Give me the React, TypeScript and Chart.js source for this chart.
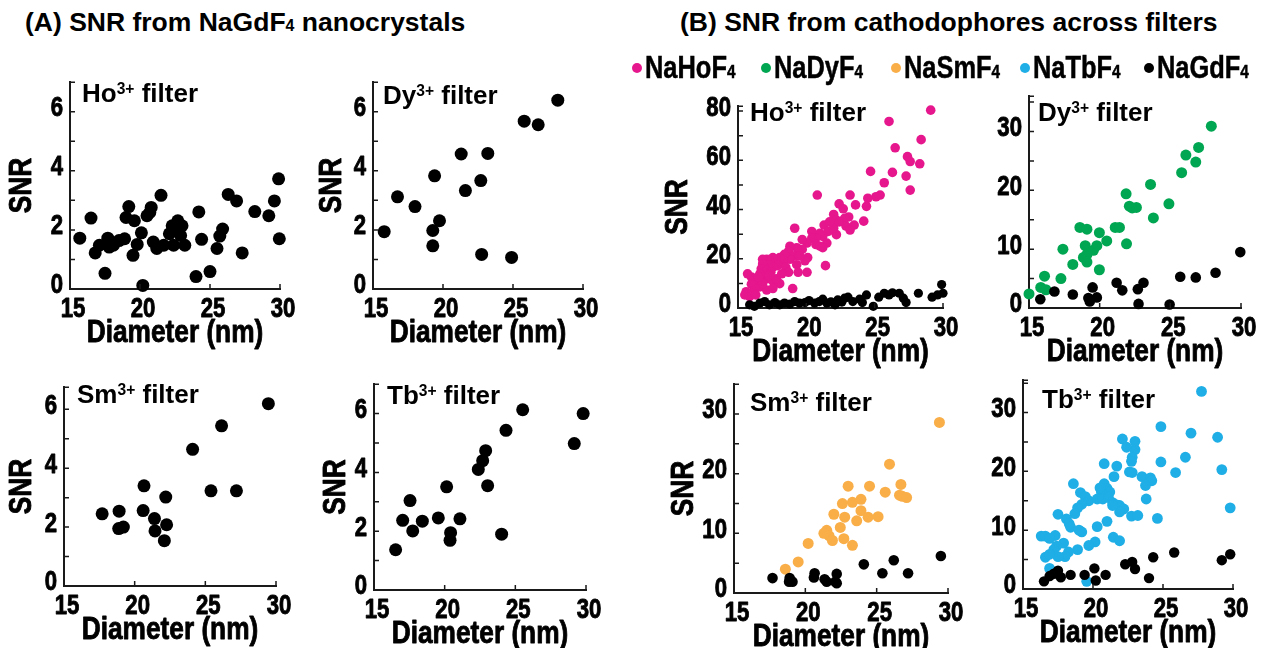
import React, { useEffect, useRef } from "react";
import { Chart, registerables } from "chart.js";

Chart.register(...registerables);

const FONT = '"Liberation Sans", Arial, sans-serif';
const SX = 0.82; // horizontal condensing of axis text (narrow bold look)

// ---------- Data (A) NaGdF4 under each filter ----------
const aHoX = [15.7, 16.5, 16.8, 17.1, 17.5, 17.7, 17.8, 18.1, 18.5, 18.9, 19.0, 19.2, 19.5, 19.6, 19.8, 20.1, 20.2, 20.5, 20.7, 20.8, 20.95, 21.2, 21.5, 21.7, 22.1, 22.3, 22.4, 22.5, 22.7, 22.9, 23.0, 23.2, 24.0, 24.2, 24.4, 25.0, 25.5, 25.7, 25.9, 26.3, 26.9, 27.3, 28.2, 29.2, 29.6, 29.9, 29.95];
const aHoY = [1.72, 2.4, 1.22, 1.48, 0.53, 1.72, 1.42, 1.48, 1.64, 1.7, 2.42, 2.79, 1.14, 2.31, 1.51, 1.9, 0.12, 2.48, 2.59, 2.76, 1.59, 1.37, 3.17, 1.48, 1.87, 2.14, 1.48, 2.03, 2.31, 1.81, 2.14, 1.48, 0.42, 2.61, 1.68, 0.59, 1.37, 1.79, 2.03, 3.2, 2.98, 1.22, 2.62, 2.48, 2.98, 3.73, 1.7];

const aDyX = [15.8, 16.75, 18.0, 19.27, 19.27, 19.4, 19.75, 21.3, 21.6, 22.7, 22.76, 23.2, 24.9, 25.8, 26.8, 28.2];
const aDyY = [1.94, 3.12, 2.79, 1.98, 1.46, 3.83, 2.31, 4.57, 3.33, 3.67, 1.17, 4.59, 1.07, 5.68, 5.56, 6.39];

const aSmX = [17.7, 18.9, 18.87, 19.2, 20.6, 20.66, 21.4, 21.44, 22.1, 22.26, 22.2, 24.1, 25.4, 26.15, 27.2, 29.46];
const aSmY = [2.45, 2.54, 1.95, 2.0, 2.56, 3.4, 2.29, 1.87, 1.54, 2.08, 3.02, 4.64, 3.23, 5.44, 3.23, 6.19];

const aTbX = [16.53, 17.03, 17.55, 17.74, 18.42, 19.55, 20.14, 20.42, 20.38, 21.08, 22.38, 22.69, 22.9, 23.04, 24.03, 24.34, 25.52, 29.17, 29.8];
const aTbY = [1.37, 2.37, 3.04, 2.01, 2.34, 2.45, 3.51, 1.95, 1.69, 2.42, 4.1, 4.4, 4.74, 3.55, 1.9, 5.43, 6.13, 4.98, 6.0];

// ---------- Data (B) cathodophores ----------
const bHoX = [29.1, 26.05, 28.4, 26.5, 27.4, 27.6, 28.3, 24.7, 26.3, 25.7, 27.3, 27.6, 25.4, 25.1, 24.5, 24.4, 23.2, 23.6, 22.4, 22.7, 20.8, 24.2, 23.1, 22.8, 22.9, 23.5, 23.2, 22.0, 22.2, 22.2, 21.3, 21.6, 21.2, 21.0, 20.4, 20.7, 21.5, 21.2, 20.4, 20.05, 19.7, 19.15, 19.7, 19.3, 20.1, 21.4, 20.05, 18.8, 18.7, 19.15, 18.8, 18.4, 18.3, 18.05, 17.8, 17.55, 17.3, 17.1, 16.8, 17.9, 17.55, 17.2, 16.8, 16.7, 17.1, 17.4, 16.6, 16.9, 17.2, 17.6, 18.05, 18.5, 19.3, 19.4, 18.7, 19.0, 16.3, 15.98, 15.7, 15.98, 16.2, 16.6, 15.6, 15.5, 15.85, 16.3, 17.1, 17.55, 17.8, 18.2, 16.8, 16.5, 17.3, 19.9, 19.5, 20.7, 21.0, 22.0, 22.4, 21.7];
const bHoY = [80.4, 75.8, 68.4, 65.1, 61.5, 59.5, 58.6, 55.5, 55.1, 50.9, 53.6, 47.9, 45.9, 45.2, 44.6, 41.3, 45.9, 41.9, 42.3, 40.3, 45.9, 35.3, 37.0, 36.4, 33.3, 33.7, 31.7, 38.0, 35.7, 29.8, 33.7, 31.1, 29.1, 30.4, 31.1, 28.4, 26.4, 24.5, 28.4, 26.4, 27.8, 32.4, 23.8, 24.5, 20.5, 17.2, 14.5, 25.1, 23.1, 21.2, 19.8, 21.8, 19.2, 20.5, 19.2, 20.5, 19.2, 19.8, 19.8, 17.2, 16.5, 17.6, 17.9, 15.9, 15.2, 14.5, 13.9, 12.6, 11.9, 10.6, 9.9, 16.5, 17.6, 14.5, 14.5, 7.9, 11.2, 12.6, 13.9, 9.7, 7.3, 8.6, 6.6, 5.3, 4.6, 5.3, 7.3, 7.9, 11.9, 13.9, 9.9, 12.6, 13.2, 19.2, 21.2, 25.8, 25.1, 32.4, 35.0, 35.0];
const bHoGdX = [15.85, 16.2, 16.6, 16.95, 17.3, 17.7, 18.05, 18.4, 18.8, 19.15, 19.5, 19.9, 20.2, 20.6, 20.95, 21.2, 21.5, 21.8, 22.1, 22.3, 22.6, 22.8, 23.05, 23.4, 23.9, 24.4, 24.1, 24.9, 25.3, 25.7, 26.05, 26.3, 26.8, 27.1, 27.3, 28.2, 29.2, 29.6, 29.9, 30.0];
const bHoGdY = [1.3, 0.7, 2.0, 2.6, 1.3, 2.2, 1.3, 2.0, 1.6, 2.6, 2.0, 2.2, 3.0, 2.0, 2.6, 3.6, 2.0, 2.5, 1.3, 3.3, 2.4, 4.0, 4.4, 2.6, 3.6, 5.3, 2.2, 0.7, 4.4, 6.0, 5.3, 6.2, 6.0, 4.0, 2.2, 6.0, 4.4, 5.3, 9.5, 6.0];

const bDyX = [15.0, 15.83, 16.2, 16.1, 17.26, 17.4, 18.1, 18.6, 19.1, 18.85, 19.1, 18.98, 19.1, 19.56, 19.8, 19.98, 19.98, 20.5, 21.1, 21.4, 21.9, 21.87, 22.1, 22.3, 22.6, 23.6, 23.8, 24.9, 25.8, 26.1, 26.8, 27.0, 27.9];
const bDyY = [2.4, 3.5, 3.1, 5.4, 5.0, 10.0, 7.4, 13.7, 13.4, 8.6, 9.1, 10.6, 7.8, 9.8, 10.6, 12.8, 6.5, 11.4, 13.7, 13.7, 10.9, 19.4, 17.3, 17.0, 17.1, 21.0, 15.3, 17.7, 23.0, 26.0, 24.8, 27.3, 30.9];
const bDyGdX = [15.8, 16.8, 18.1, 19.3, 19.5, 19.8, 19.2, 21.2, 21.6, 22.7, 23.1, 22.75, 24.95, 25.7, 26.8, 28.2, 29.95];
const bDyGdY = [1.5, 2.8, 2.3, 1.1, 3.5, 1.8, 1.7, 4.3, 3.0, 3.2, 4.3, 0.7, 0.6, 5.3, 5.2, 6.0, 9.5];

const bSmX = [18.6, 19.5, 20.2, 22.0, 21.5, 21.66, 21.9, 22.45, 22.76, 22.7, 23.0, 23.3, 22.6, 23.3, 23.6, 23.9, 23.9, 24.4, 24.5, 25.1, 25.6, 25.9, 26.7, 26.6, 26.8, 27.1, 29.4, 21.3];
const bSmY = [4.0, 5.2, 8.3, 13.2, 10.5, 9.6, 8.8, 11.0, 12.7, 9.1, 17.9, 8.0, 15.0, 15.2, 12.1, 13.8, 15.7, 12.7, 17.9, 12.8, 16.9, 21.6, 18.2, 16.4, 16.2, 16.0, 28.6, 10.0];
const bSmGdX = [17.7, 18.9, 18.86, 19.1, 20.65, 20.6, 21.35, 21.5, 22.2, 22.1, 22.2, 24.1, 25.4, 26.2, 27.2, 29.5];
const bSmGdY = [2.5, 2.5, 1.9, 1.9, 3.3, 2.6, 2.3, 1.9, 3.2, 1.9, 1.65, 4.8, 3.3, 5.5, 3.3, 6.2];

const bTbX = [27.75, 24.85, 27.0, 28.9, 23.0, 23.0, 22.1, 22.4, 22.8, 22.75, 26.6, 24.85, 20.8, 21.7, 29.2, 25.9, 22.6, 22.8, 23.5, 24.1, 24.2, 18.6, 21.5, 20.8, 21.0, 21.2, 20.6, 19.1, 19.45, 19.7, 20.3, 20.7, 21.1, 21.4, 21.7, 21.9, 22.2, 21.9, 23.8, 21.4, 19.2, 18.9, 18.7, 17.5, 18.1, 18.3, 18.4, 20.3, 21.0, 22.75, 23.2, 24.6, 19.2, 19.0, 17.3, 16.3, 16.6, 16.9, 17.9, 17.4, 17.2, 21.45, 21.9, 20.15, 19.7, 18.9, 18.25, 18.0, 17.5, 16.6, 16.9, 16.9, 19.55, 23.75, 29.8, 20.5];
const bTbY = [33.6, 27.6, 26.5, 25.8, 23.7, 25.1, 25.5, 24.1, 22.4, 21.7, 22.4, 21.6, 21.3, 20.9, 20.3, 19.8, 19.9, 19.8, 19.1, 18.9, 18.4, 17.9, 19.1, 17.9, 17.1, 16.5, 16.5, 16.4, 15.7, 15.0, 15.3, 15.3, 15.6, 14.7, 14.3, 14.2, 13.6, 13.1, 15.3, 14.2, 14.4, 13.8, 12.8, 12.7, 11.9, 11.1, 10.5, 10.6, 11.5, 12.4, 12.5, 12.0, 9.7, 10.0, 9.1, 9.0, 9.0, 8.6, 7.8, 7.3, 6.7, 8.8, 8.2, 8.0, 7.4, 6.7, 6.3, 5.5, 5.5, 5.4, 5.9, 3.5, 1.3, 17.6, 13.8, 17.2];
const bTbGdX = [16.5, 16.9, 17.2, 17.5, 17.7, 18.4, 19.4, 20.1, 20.2, 20.9, 22.3, 22.8, 23.0, 24.0, 24.3, 25.8, 29.2, 29.8];
const bTbGdY = [1.3, 2.2, 2.6, 3.1, 2.0, 2.4, 2.4, 3.5, 1.45, 2.4, 4.2, 4.6, 3.4, 1.85, 5.4, 6.2, 4.9, 5.9];

// ---------- Labels ----------
const xTitle = "Diameter (nm)";
const yTitle = "SNR";
const legendNames = ["NaHo", "NaDy", "NaSm", "NaTb", "NaGd"];
const COL = { ho: "#E6168D", dy: "#00A651", sm: "#F9AE48", tb: "#1FAEE6", gd: "#000000" };
const legendColors = [COL.ho, COL.dy, COL.sm, COL.tb, COL.gd];
const legendDotX = [637, 766, 896, 1025, 1149];

type Series = { xs: number[]; ys: number[]; color: string; r: number };
type PanelCfg = {
  key: string;
  plot: [number, number, number, number]; // left, top, right, bottom
  ymax: number;
  yStep: number;
  yMinor: number;
  snrX: number | null;
  ion: string;
  titlePos: [number, number];
  series: Series[];
};

const PANELS: PanelCfg[] = [
  { key: "aHo", plot: [70, 79, 280, 289], ymax: 7, yStep: 2, yMinor: 1, snrX: 22, ion: "Ho", titlePos: [82, 93],
    series: [{ xs: aHoX, ys: aHoY, color: COL.gd, r: 6.5 }] },
  { key: "aDy", plot: [373, 79, 583, 289], ymax: 7, yStep: 2, yMinor: 1, snrX: 332, ion: "Dy", titlePos: [383, 95],
    series: [{ xs: aDyX, ys: aDyY, color: COL.gd, r: 6.5 }] },
  { key: "aSm", plot: [64, 384, 276, 586], ymax: 6.75, yStep: 2, yMinor: 1, snrX: 22, ion: "Sm", titlePos: [77, 394],
    series: [{ xs: aSmX, ys: aSmY, color: COL.gd, r: 6.5 }] },
  { key: "aTb", plot: [374, 381, 586, 590], ymax: 7, yStep: 2, yMinor: 1, snrX: 336, ion: "Tb", titlePos: [387, 395],
    series: [{ xs: aTbX, ys: aTbY, color: COL.gd, r: 6.5 }] },
  { key: "bHo", plot: [738, 103, 943, 308], ymax: 82, yStep: 20, yMinor: 10, snrX: 678, ion: "Ho", titlePos: [750, 112],
    series: [{ xs: bHoGdX, ys: bHoGdY, color: COL.gd, r: 4.6 }, { xs: bHoX, ys: bHoY, color: COL.ho, r: 4.8 }] },
  { key: "bDy", plot: [1029, 93, 1241, 308], ymax: 36, yStep: 10, yMinor: 5, snrX: null, ion: "Dy", titlePos: [1038, 112],
    series: [{ xs: bDyGdX, ys: bDyGdY, color: COL.gd, r: 5.3 }, { xs: bDyX, ys: bDyY, color: COL.dy, r: 5.5 }] },
  { key: "bSm", plot: [734, 381, 948, 593], ymax: 35, yStep: 10, yMinor: 5, snrX: 684, ion: "Sm", titlePos: [750, 402],
    series: [{ xs: bSmGdX, ys: bSmGdY, color: COL.gd, r: 5.3 }, { xs: bSmX, ys: bSmY, color: COL.sm, r: 5.5 }] },
  { key: "bTb", plot: [1023, 377, 1233, 589], ymax: 35.5, yStep: 10, yMinor: 5, snrX: null, ion: "Tb", titlePos: [1042, 399],
    series: [{ xs: bTbGdX, ys: bTbGdY, color: COL.gd, r: 5.2 }, { xs: bTbX, ys: bTbY, color: COL.tb, r: 5.4 }] },
];

const PT = 20;
const PR = 22;
const XH = 62;

const innerTicks = {
  id: "innerTicks",
  afterDraw(chart: any, _args: any, opts: any) {
    const { ctx, chartArea, scales } = chart;
    const xs = scales.x;
    const ys = scales.y;
    const len = 5;
    ctx.save();
    ctx.strokeStyle = "#1a1a1a";
    ctx.lineWidth = 1.5;
    ctx.beginPath();
    for (let v = xs.min + opts.xStep; v <= xs.max + 1e-9; v += opts.xStep) {
      const px = xs.getPixelForValue(v);
      ctx.moveTo(px, chartArea.bottom);
      ctx.lineTo(px, chartArea.bottom - len);
    }
    const yVals: number[] = [];
    for (let v = ys.min + opts.yStep; v <= ys.max + 1e-9; v += opts.yStep) yVals.push(v);
    if (yVals.length === 0 || Math.abs(yVals[yVals.length - 1] - ys.max) > 1e-6) yVals.push(ys.max);
    for (const v of yVals) {
      const py = ys.getPixelForValue(v);
      ctx.moveTo(chartArea.left, py);
      ctx.lineTo(chartArea.left + len, py);
    }
    ctx.stroke();
    ctx.restore();
  },
};

function Panel({ cfg }: { cfg: PanelCfg }) {
  const ref = useRef<HTMLCanvasElement | null>(null);
  const [pl, pt, pr, pb] = cfg.plot;
  const canvasLeft = cfg.snrX !== null ? cfg.snrX - 18 : pl - 50;
  const yw = pl - canvasLeft;
  const canvasTop = pt - PT;
  const w = pr - pl + yw + PR;
  const h = pb - pt + PT + XH;

  useEffect(() => {
    const canvas = ref.current;
    if (!canvas) return;
    const c2d = canvas.getContext("2d") as any;
    const origFill = c2d.fillText.bind(c2d);
    const origStroke = c2d.strokeText.bind(c2d);
    // condense axis text horizontally around its anchor point, with a slightly heavier stroke
    c2d.fillText = (text: string, x: number, y: number) => {
      c2d.save();
      c2d.translate(x, y);
      c2d.scale(SX, 1);
      origFill(text, 0, 0);
      c2d.lineWidth = 0.9;
      c2d.lineJoin = "round";
      c2d.strokeStyle = c2d.fillStyle;
      origStroke(text, 0, 0);
      c2d.restore();
    };
    const tickFont = { family: FONT, weight: "bold" as const, size: 27 };
    const titleFont = { family: FONT, weight: "bold" as const, size: 32, lineHeight: 1.125 };
    const chart = new Chart(canvas, {
      type: "scatter",
      data: {
        datasets: cfg.series.map((s) => ({
          data: s.xs.map((x, i) => ({ x, y: s.ys[i] })),
          backgroundColor: s.color,
          borderWidth: 0,
          pointRadius: s.r,
          pointHoverRadius: s.r,
          clip: false as any,
        })),
      },
      options: {
        animation: false,
        responsive: false,
        maintainAspectRatio: false,
        events: [],
        layout: { padding: { top: PT, right: PR, left: 0, bottom: 0 } },
        plugins: {
          legend: { display: false },
          tooltip: { enabled: false },
          innerTicks: { xStep: 5, yStep: cfg.yMinor },
        } as any,
        scales: {
          x: {
            type: "linear",
            min: 15,
            max: 30,
            grid: { display: false, drawTicks: false },
            border: { display: true, color: "#1a1a1a", width: 2 },
            ticks: { stepSize: 5, includeBounds: false, padding: 4, labelOffset: 3, color: "#000", font: tickFont, maxRotation: 0, autoSkip: false },
            title: { display: true, text: xTitle, color: "#000", font: titleFont, padding: 0 },
            afterFit: (s: any) => { s.height = XH; },
          },
          y: {
            type: "linear",
            min: 0,
            max: cfg.ymax,
            grid: { display: false, drawTicks: false },
            border: { display: true, color: "#1a1a1a", width: 2 },
            ticks: { stepSize: cfg.yStep, includeBounds: false, padding: 7, labelOffset: -3, color: "#000", font: tickFont, autoSkip: false },
            title: { display: cfg.snrX !== null, text: yTitle, color: "#000", font: titleFont, padding: 0 },
            afterFit: (s: any) => { s.width = yw; },
          },
        },
      } as any,
      plugins: [innerTicks],
    });
    return () => chart.destroy();
  }, []);

  return (
    <canvas
      ref={ref}
      width={w}
      height={h}
      style={{ position: "absolute", left: canvasLeft, top: canvasTop, width: w, height: h }}
    />
  );
}

function Sub({ children }: { children: React.ReactNode }) {
  return <span style={{ fontSize: "0.6em", verticalAlign: "baseline" }}>{children}</span>;
}

export default function App() {
  return (
    <div style={{ position: "fixed", left: 0, top: 0, width: 1271, height: 648, overflow: "hidden", background: "#fff", fontFamily: FONT, color: "#000" }}>
      {PANELS.map((p) => (
        <Panel key={p.key} cfg={p} />
      ))}
      {PANELS.map((p) => (
        <div key={p.key + "t"} style={{ position: "absolute", left: p.titlePos[0], top: p.titlePos[1] - 15, height: 30, lineHeight: "30px", fontSize: 26, fontWeight: "bold", whiteSpace: "nowrap" }}>
          {p.ion}
          <span style={{ fontSize: "0.6em", verticalAlign: "top", position: "relative", top: -4 }}>3+</span> filter
        </div>
      ))}
      <div style={{ position: "absolute", left: 25, top: 8, lineHeight: "28px", fontSize: 26.5, fontWeight: "bold", whiteSpace: "nowrap" }}>
        (A) SNR from NaGdF<Sub>4</Sub> nanocrystals
      </div>
      <div style={{ position: "absolute", left: 680, top: 8, lineHeight: "28px", fontSize: 26.5, fontWeight: "bold", whiteSpace: "nowrap" }}>
        (B) SNR from cathodophores across filters
      </div>
      {legendNames.map((name, i) => (
        <div key={name} style={{ position: "absolute", left: legendDotX[i] - 5, top: 52, height: 32, display: "flex", alignItems: "center", whiteSpace: "nowrap" }}>
          <span style={{ display: "inline-block", width: 10, height: 10, borderRadius: 5, background: legendColors[i], marginRight: 3 }} />
          <span style={{ display: "inline-block", fontWeight: "bold", fontSize: 31, transform: `scaleX(${SX})`, transformOrigin: "left center", WebkitTextStroke: "0.5px #000" }}>
            {name}F<Sub>4</Sub>
          </span>
        </div>
      ))}
    </div>
  );
}
